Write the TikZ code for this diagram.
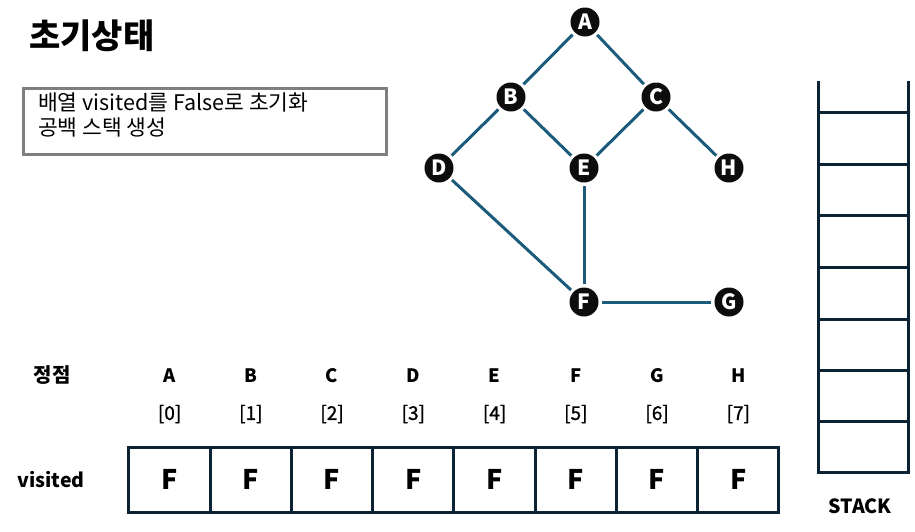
\documentclass[tikz,border=0pt]{standalone}
\usepackage{fontspec}
\setmainfont{Noto Sans CJK KR}
\newfontfamily\semib[FakeBold=1.2]{Noto Sans CJK KR}
\begin{document}
\begin{tikzpicture}[x=1pt,y=-1pt,
  gnode/.style={circle,fill=black!95,minimum size=29pt,inner sep=0pt,text=white,font=\fontsize{21}{21}\selectfont\bfseries},
  edge/.style={draw=edgeblue,line width=3pt},
  stk/.style={draw=navy,line width=3pt},
  cell/.style={draw=navy,line width=3pt,minimum width=81.25pt,minimum height=65pt,inner sep=0pt,font=\fontsize{27}{27}\selectfont\bfseries},
  lbl/.style={font=\fontsize{18.5}{18.5}\selectfont\bfseries,inner sep=0pt},
  idx/.style={font=\fontsize{19}{19}\selectfont\semib,inner sep=0pt}
]
\definecolor{edgeblue}{HTML}{1D5B7A}
\definecolor{navy}{HTML}{0B2433}
\definecolor{boxgray}{HTML}{7F7F7F}
\useasboundingbox (0,0) rectangle (915,531);

% title
\node[anchor=west,inner sep=0pt,font=\fontsize{34}{34}\selectfont\bfseries] (title) at (29,36) {초기상태};

% description box
\node[draw=boxgray,line width=3pt,minimum width=363pt,minimum height=66pt,inner sep=0pt] (box) at (204.5,121) {};
\node[anchor=north west,align=left,inner sep=0pt,font=\fontsize{21.5}{25}\selectfont] (desc) at (38,93) {배열 visited를 False로 초기화\\공백 스택 생성};

% graph
\node[gnode] (A) at (585,22) {A};
\node[gnode] (B) at (511,97) {B};
\node[gnode] (C) at (656,97) {C};
\node[gnode] (D) at (439,168) {D};
\node[gnode] (E) at (584,168) {E};
\node[gnode] (H) at (729,168) {H};
\node[gnode] (F) at (584,302) {F};
\node[gnode] (G) at (729,302) {G};
\begin{scope}[shorten >=3pt,shorten <=3pt]
\draw[edge] (A) -- (B);
\draw[edge] (A) -- (C);
\draw[edge] (B) -- (D);
\draw[edge] (B) -- (E);
\draw[edge] (C) -- (E);
\draw[edge] (C) -- (H);
\draw[edge] (D) -- (F);
\draw[edge] (E) -- (F);
\draw[edge] (F) -- (G);
\end{scope}

% stack
\coordinate (sTL) at (818,81);
\coordinate (sTR) at (908,81);
\coordinate (sBL) at (818,472);
\coordinate (sBR) at (908,472);
\draw[stk] (sTL) -- (sBL) -- (sBR) -- (sTR);
\foreach \yy in {112,164,215,267,319,370,421}
  \draw[stk] (818,\yy) -- (908,\yy);
\node[lbl,font=\fontsize{19.5}{19.5}\selectfont\bfseries] (stacklbl) at (860,506) {STACK};

% table
\node[lbl,font=\fontsize{20}{20}\selectfont\bfseries] (jj) at (52,375) {정점};
\node[lbl,font=\fontsize{19.5}{19.5}\selectfont\bfseries] (vis) at (51,480) {visited};
\foreach \L [count=\i from 0] in {A,B,C,D,E,F,G,H} {
  \pgfmathsetmacro{\cx}{169.6+81.25*\i}
  \node[lbl] (L\i) at (\cx,376) {\L};
  \node[idx] (I\i) at (\cx,414) {[\i]};
  \node[cell] (c\i) at (\cx,479.5) {F};
}
\end{tikzpicture}
\end{document}
